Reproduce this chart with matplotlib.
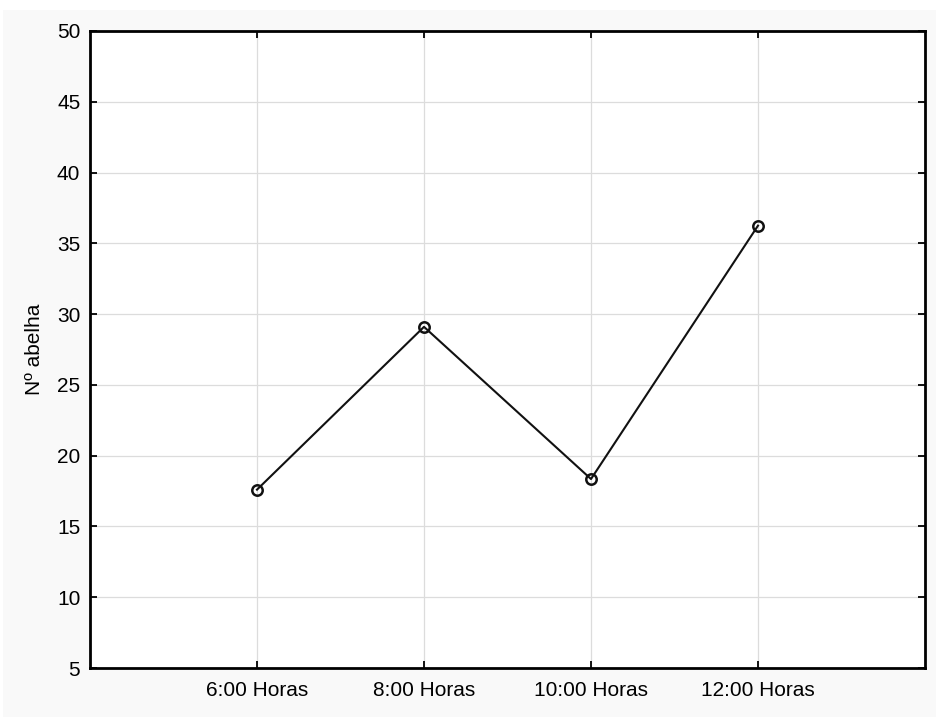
import matplotlib
matplotlib.use("Agg")
import matplotlib.pyplot as plt
from matplotlib.patches import Rectangle

horas = ["6:00 Horas", "8:00 Horas", "10:00 Horas", "12:00 Horas"]
abelhas = [17.6, 29.1, 18.35, 36.25]

plt.rcParams["font.family"] = ["Liberation Sans", "DejaVu Sans"]

fig = plt.figure(figsize=(9.36, 7.17), dpi=100, facecolor="white")
# light gray panel behind the plot
fig.patches.append(Rectangle((3 / 936, 0), 1, 1 - 10 / 717, transform=fig.transFigure,
                             facecolor="#f9f9f9", edgecolor="none", zorder=-10))
ax = fig.add_axes([90 / 936, 1 - 668 / 717, (925 - 90) / 936, (668 - 31) / 717])
ax.set_facecolor("white")

x = list(range(len(horas)))
ax.plot(x, abelhas, color="#111111", lw=1.5, marker="o", ms=7.5, mfc="none", mew=1.8, zorder=3)

ax.set_xlim(-1, 4)
ax.set_ylim(5, 50)
ax.set_xticks(x)
ax.set_xticklabels(horas)
ax.set_yticks(range(5, 51, 5))
ax.grid(color="#dcdcdc", lw=0.9)
ax.set_axisbelow(True)
ax.tick_params(direction="in", length=5, width=1.3, labelsize=15, top=True, right=True)
ax.tick_params(axis="y", pad=7)
ax.tick_params(axis="x", pad=9)
for s in ax.spines.values():
    s.set_linewidth(2)
ax.set_ylabel("Nº abelha", fontsize=15, labelpad=9)

fig.savefig("out.png", dpi=100)
